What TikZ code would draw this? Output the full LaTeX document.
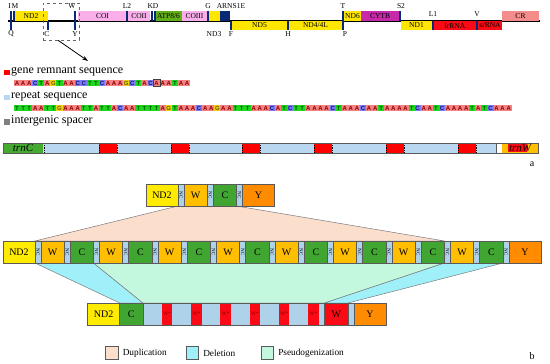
\documentclass[tikz,border=0pt]{standalone}
\usepackage{fontspec}
\setmainfont{Liberation Serif}
\setsansfont{Liberation Sans}
\usetikzlibrary{positioning,arrows.meta,backgrounds}
\definecolor{gyel}{RGB}{255,230,0}
\definecolor{gpink}{RGB}{250,175,235}
\definecolor{gatp}{RGB}{100,175,25}
\definecolor{gcytb}{RGB}{200,40,170}
\definecolor{grna}{RGB}{250,10,20}
\definecolor{gcr}{RGB}{245,140,140}
\definecolor{tknavy}{RGB}{10,40,120}
\definecolor{barblue}{RGB}{185,215,240}
\definecolor{trncgreen}{RGB}{70,170,50}
\definecolor{trnworange}{RGB}{255,190,0}
\definecolor{seqA}{RGB}{244,130,130}
\definecolor{seqC}{RGB}{125,125,245}
\definecolor{seqG}{RGB}{240,210,20}
\definecolor{seqT}{RGB}{30,215,30}
\definecolor{txtA}{RGB}{140,0,0}
\definecolor{txtC}{RGB}{20,20,120}
\definecolor{txtG}{RGB}{110,90,0}
\definecolor{txtT}{RGB}{0,90,0}
\definecolor{bnd}{RGB}{255,235,0}
\definecolor{bw}{RGB}{255,190,0}
\definecolor{bc}{RGB}{65,165,50}
\definecolor{by}{RGB}{255,140,0}
\definecolor{bnc}{RGB}{175,210,235}
\definecolor{boxgray}{RGB}{90,90,90}
\definecolor{dupfill}{RGB}{252,222,205}
\definecolor{delfill}{RGB}{160,240,250}
\definecolor{psefill}{RGB}{195,248,222}

\begin{document}
\begin{tikzpicture}[x=1pt,y=-1pt,
  maplbl/.style={font=\fontsize{7.5}{8}\selectfont, inner sep=0pt},
  basebox/.style={minimum width=6.07pt, minimum height=6.5pt, inner sep=0pt,
    font=\sffamily\bfseries\fontsize{6}{6}\selectfont},
  legtxt/.style={font=\fontsize{12}{13}\selectfont, inner sep=0pt, anchor=west},
  seg/.style={draw=boxgray, line width=0.6pt, minimum height=22pt, inner sep=0pt,
    outer sep=0pt, font=\fontsize{10}{10}\selectfont},
  ndbox/.style={seg, fill=bnd, minimum width=32pt},
  wbox/.style={seg, fill=bw, minimum width=23.25pt},
  cbox/.style={seg, fill=bc, minimum width=23.25pt},
  ybox/.style={seg, fill=by, minimum width=32pt},
  ncbox/.style={seg, fill=bnc, minimum width=6pt, font=\fontsize{5}{5}\selectfont},
  wstar/.style={fill=grna, minimum width=10.5pt, minimum height=21.4pt, inner sep=0pt,
    text=txtA, font=\fontsize{5.5}{5.5}\selectfont},
  evolbox/.style={draw=boxgray!80, line width=0.5pt},
  legbox/.style={draw=boxgray, line width=0.6pt, minimum size=12.5pt, inner sep=0pt},
  keytxt/.style={font=\fontsize{9.3}{10}\selectfont, inner sep=0pt, anchor=west},
]
\useasboundingbox (0,0) rectangle (550,364);

% mitochondrial genome map
\draw[line width=1.2pt] (8,21) -- (540,21);
\foreach \xa/\xb/\col/\txt [count=\i] in {14/48/gyel/ND2, 78/127/gpink/COI,
    128/150/gpink/COII, 155/182/gatp/{ATP8/6}, 182/207/gpink/COIII, 209/220/gyel/{},
    220/230/tknavy/{}, 344/361/gyel/ND6, 361/399/gcytb/CYTB, 502/539/gcr/CR}{
  \fill[\col] (\xa,11) rectangle (\xb,21);
  \node[maplbl] (gu\i) at ({(\xa+\xb)/2},16) {\txt};
}
\foreach \xa/\xb/\col/\txt [count=\i] in {232/287/gyel/ND5, 289/342/gyel/{ND4/4L},
    401/432/gyel/ND1, 434/476/grna/lrRNA, 478/502/grna/srRNA}{
  \fill[\col] (\xa,21) rectangle (\xb,30);
  \node[maplbl] (gl\i) at ({(\xa+\xb)/2},25.5) {\txt};
}
\foreach \x in {9.5,12.5,74,126,150.5,153.5,207,342,399}
  \fill[tknavy] (\x,11) rectangle ++(2,10);
\foreach \x in {10,47,74,230,287,342,432,476}
  \fill[tknavy] (\x,21) rectangle ++(2,9);
\foreach \x/\yy/\txt [count=\i] in {9.5/6/I, 15/6/M, 72/6/W, 127/6/L2, 153/6/KD,
    208/6/G, 231/6/ARNS1E, 343/6/T, 401/6/S2, 433/14/L1, 477/14/V,
    11/34/Q, 47/34/C, 75/34/Y, 214/34/ND3, 231/34/F, 288/34/H, 345/34/P}
  \node[maplbl] (ml\i) at (\x,\yy) {\txt};

\node[draw=black!60, dashed, line width=0.5pt, minimum width=36pt, minimum height=37pt,
  inner sep=0pt] (zoombox) at (61,21.5) {};
\coordinate (zoomto) at (88,61);
\draw[-{Stealth[length=6pt,width=4pt]}, line width=0.8pt] ([xshift=-3pt]zoombox.south) -- (zoomto);

% panel a: sequences
\fill[red] (4,69.5) rectangle (9.5,75);
\node[legtxt] (keyrem) at (11,71) {gene remnant sequence};
\foreach \base [count=\i] in {A,A,A,C,T,A,G,T,A,A,C,C,T,T,C,A,A,A,G,C,T,A,C,A,A,A,T,A,A}
  \node[basebox, fill=seq\base, text=txt\base] (sa\i) at ({14+(\i-0.5)*6.07},83) {\base};
\draw[black!75, line width=0.6pt] (sa24.north west) rectangle (sa24.south east);

\fill[barblue] (4,94.5) rectangle (9.5,100);
\node[legtxt] (keyrep) at (11,96) {repeat sequence};
\foreach \base [count=\i] in {T,T,T,A,A,T,T,G,A,A,A,T,T,A,T,T,A,C,A,A,T,T,T,T,A,G,T,A,A,A,
    C,A,A,G,A,A,T,T,T,A,A,A,C,A,T,C,T,T,A,A,A,A,C,T,A,A,A,C,A,A,T,A,A,A,A,T,C,A,A,T,
    C,A,A,A,A,T,A,T,C,A,A,A}
  \node[basebox, fill=seq\base, text=txt\base] (sb\i) at ({14+(\i-0.5)*6.07},108) {\base};

\fill[gray] (4,119) rectangle (9.5,124.5);
\node[legtxt] (keyigs) at (11,121) {intergenic spacer};

% panel a: repeat region
\fill[barblue] (43,143) rectangle (496,153);
\fill[trncgreen] (3,143) rectangle (43,153);
\foreach \x in {99,171,242,314,386,458}{
  \fill[red] (\x,143) rectangle ++(18,10);
  \draw[densely dotted, line width=0.8pt] (\x,143) -- ++(0,10);
  \draw[densely dotted, line width=0.8pt] (\x+18,143) -- ++(0,10);
}
\draw[densely dotted, line width=0.8pt] (44,143) -- (44,153);
\fill[trnworange] (502,143) rectangle (538,153);
\fill[grna] (508,144) rectangle (527,152);
\draw[boxgray, line width=0.7pt] (3,143) rectangle (538,153);
\draw[boxgray, line width=0.7pt] (496,143) -- (496,153);
\node[font=\itshape\fontsize{11}{11}\selectfont, inner sep=0pt] (trnc) at (23,148) {trnC};
\node[font=\itshape\fontsize{11}{11}\selectfont, inner sep=0pt] (trnw) at (520,148) {trnW};
\node[font=\fontsize{10}{10}\selectfont, inner sep=0pt] (panela) at (532,164) {a};

% panel b: ancestral order
\node[ndbox, anchor=west] (t0) at (146,195) {ND2};
\node[ncbox, right=0pt of t0] (tna) {\rotatebox{-90}{NC}};
\node[wbox, right=0pt of tna] (tw) {W};
\node[ncbox, right=0pt of tw] (tnb) {\rotatebox{-90}{NC}};
\node[cbox, right=0pt of tnb] (tc) {C};
\node[ncbox, right=0pt of tc] (tnc) {\rotatebox{-90}{NC}};
\node[ybox, right=0pt of tnc] (ty) {Y};

% panel b: duplicated order
\node[ndbox, anchor=west] (mc0) at (3,252) {ND2};
\foreach \k [remember=\k as \j (initially 0)] in {1,...,8}{
  \node[ncbox, right=0pt of mc\j] (mna\k) {\rotatebox{-90}{NC}};
  \node[wbox, right=0pt of mna\k] (mw\k) {W};
  \node[ncbox, right=0pt of mw\k] (mnb\k) {\rotatebox{-90}{NC}};
  \node[cbox, right=0pt of mnb\k] (mc\k) {C};
}
\node[ncbox, right=0pt of mc8] (mny) {\rotatebox{-90}{NC}};
\node[ybox, right=0pt of mny] (my) {Y};

% panel b: present order
\node[ndbox, anchor=west] (b0) at (87.7,314) {ND2};
\node[cbox, right=0pt of b0] (bc) {C};
\node[seg, fill=bnc, minimum width=181.75pt, right=0pt of bc] (brep) {};
\foreach \k in {0,...,5}
  \node[wstar] (ws\k) at ([xshift={24.25+\k*29.25}]brep.west) {W*};
\node[seg, fill=grna, minimum width=23.25pt, right=0pt of brep] (bw) {W};
\node[ncbox, right=0pt of bw] (bny) {};
\node[ybox, right=0pt of bny] (by) {Y};
\draw[boxgray, line width=0.6pt] (brep.north west) rectangle (brep.south east);

\begin{scope}[on background layer]
  \draw[evolbox, fill=dupfill] (t0.south east) -- (tc.south east) -- (mc7.north east)
    -- (mc0.north east) -- cycle;
  \draw[evolbox, fill=delfill] (mc0.south east) -- (mc1.south east) -- (bc.north east)
    -- (bc.north west) -- cycle;
  \draw[evolbox, fill=psefill] (mc1.south east) -- (mc7.south east) -- (bw.north west)
    -- (bc.north east) -- cycle;
  \draw[evolbox, fill=delfill] (mc7.south east) -- (mc8.south east) -- (bw.north east)
    -- (bw.north west) -- cycle;
\end{scope}

% panel b: key
\node[legbox, fill=dupfill] (kdup) at (112,353) {};
\node[keytxt, right=4pt of kdup] (kduptxt) {Duplication};
\node[legbox, fill=delfill] (kdel) at (192.5,353) {};
\node[keytxt, right=4pt of kdel] (kdeltxt) {Deletion};
\node[legbox, fill=psefill] (kpse) at (267.5,353) {};
\node[keytxt, right=4pt of kpse] (kpsetxt) {Pseudogenization};
\node[font=\fontsize{10}{10}\selectfont, inner sep=0pt] (panelb) at (532,356) {b};
\end{tikzpicture}
\end{document}
